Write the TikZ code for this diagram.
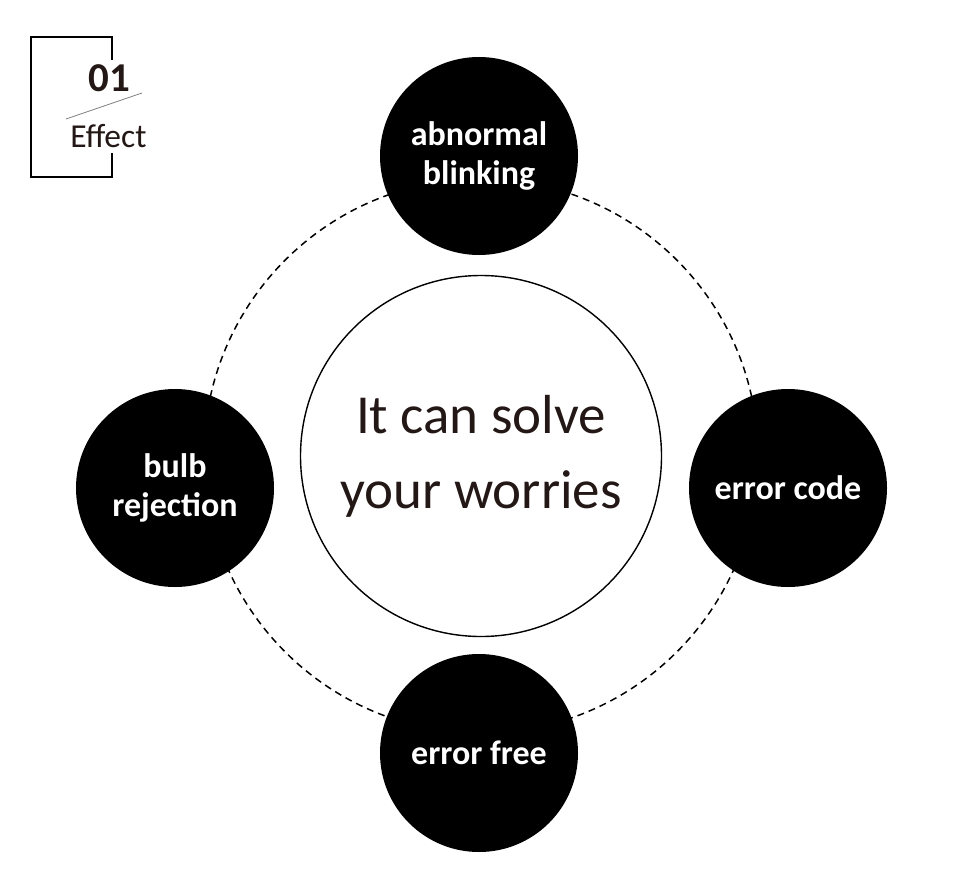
\documentclass[tikz,border=0pt]{standalone}
\usepackage{fontspec}
\setmainfont{Carlito}
\usetikzlibrary{positioning}
\definecolor{ink}{HTML}{231815}
\tikzset{bubble/.style={circle,fill=black,minimum size=198pt,inner sep=0pt,text=white,align=center,font=\fontsize{34}{39}\selectfont\bfseries}}
\begin{document}
\begin{tikzpicture}[x=1pt,y=-1pt]
\useasboundingbox(0,0)rectangle(960,888);
\coordinate(O)at(481,456);
\draw[dash pattern=on 7pt off 5pt,line width=1.5pt](O)circle(277pt);
\node[circle,draw,line width=1.4pt,minimum size=361pt,inner sep=0pt,text=ink,align=center,font=\fontsize{55}{75}\selectfont](core)at(O){It can solve\\your worries};
\node[bubble](blink)at(479,156){abnormal\\blinking};
\node[bubble](bulb)at(175,488){bulb\\rejection};
\node[bubble](code)at(788,488){error code};
\node[bubble](free)at(479,753){error free};
%label box
\draw[line width=1.8pt](112,60)--(112,37)--(31,37)--(31,177)--(112,177)--(112,153);
\draw[gray,line width=.8pt](66,119)--(142,93);
\node[font=\fontsize{41}{41}\selectfont\bfseries,text=ink,anchor=base](num)at(109,92){01};
\node[font=\fontsize{33.5}{33.5}\selectfont,text=ink,anchor=base](effect)at(108.5,147){Effect};
\end{tikzpicture}
\end{document}
